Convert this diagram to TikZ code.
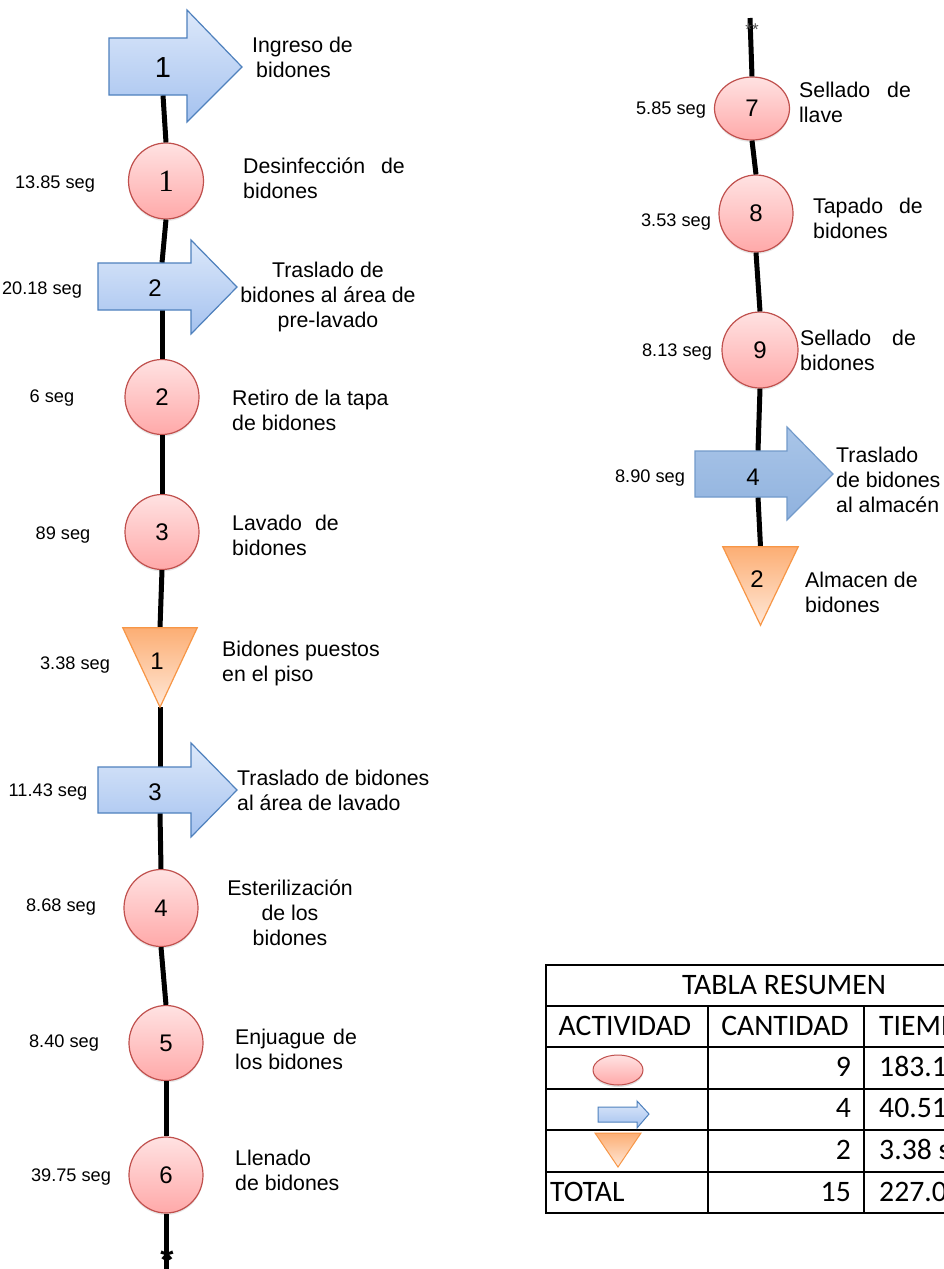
\documentclass[tikz,border=0pt]{standalone}
\usepackage{fontspec}
\setmainfont{Liberation Sans}
\newfontfamily\calfont{Carlito}
\newfontfamily\serfont{Liberation Serif}
\usetikzlibrary{shapes.geometric,shadows}
\definecolor{circborder}{HTML}{C0504D}
\definecolor{circtop}{HTML}{FFE2E2}
\definecolor{circbot}{HTML}{FFA9A9}
\definecolor{arrborder}{HTML}{4F81BD}
\definecolor{arrtop}{HTML}{DCE8FA}
\definecolor{arrbot}{HTML}{A5C2EF}
\definecolor{arrtopb}{HTML}{A9C5E8}
\definecolor{arrbotb}{HTML}{90B2DE}
\definecolor{triborder}{HTML}{F79646}
\definecolor{tritop}{HTML}{FCAE74}
\definecolor{tribot}{HTML}{FFE8D8}
\tikzset{
  spine/.style={line width=5pt, black},
  circ/.style={ellipse, draw=circborder, line width=1.2pt, top color=circtop, bottom color=circbot,
    inner sep=0pt, font=\fontsize{24}{24}\selectfont,
    drop shadow={opacity=0.18, shadow xshift=0pt, shadow yshift=-2pt}},
  anode/.style={inner sep=0pt, minimum width=20pt, font=\fontsize{24}{24}\selectfont},
  arrshape/.style={draw=arrborder, line width=1.2pt, top color=arrtop, bottom color=arrbot, line join=miter},
  arrshapeb/.style={draw=arrborder!80, line width=1.2pt, top color=arrtopb, bottom color=arrbotb, line join=miter},
  tnode/.style={inner sep=0pt, minimum width=74pt, minimum height=79pt},
  trishape/.style={draw=triborder, line width=1.2pt, top color=tritop, bottom color=tribot, line join=miter},
  num/.style={inner sep=0pt, font=\fontsize{24}{24}\selectfont},
  desc/.style={font=\fontsize{21.3}{25}\selectfont, align=left, anchor=west, inner sep=0pt},
  descc/.style={font=\fontsize{21.3}{25}\selectfont, align=center, anchor=center, inner sep=0pt},
  tlabel/.style={font=\fontsize{18.2}{20}\selectfont, inner sep=0pt},
  tabline/.style={line width=2pt, black},
  tabtext/.style={font=\calfont\fontsize{29.7}{30}\selectfont, inner sep=0pt}
}
\begin{document}
\begin{tikzpicture}[x=1pt,y=-1pt]
\clip (0,0) rectangle (944,1269);
\fill[white] (0,0) rectangle (944,1269);

% ---------------- left column nodes ----------------
\node[anode, minimum height=57pt] (a1) at (163,66.5) {};
\node[circ, minimum width=75pt, minimum height=76pt, font=\serfont\fontsize{31}{31}\selectfont] (c1) at (166,181) {1};
\node[anode, minimum height=47pt] (a2) at (162,286.5) {};
\node[circ, minimum width=74pt, minimum height=75pt] (c2) at (162,397) {2};
\node[circ, minimum width=74pt, minimum height=75pt] (c3) at (162,532) {3};
\node[tnode] (t1) at (160,667.5) {};
\node[anode, minimum height=46pt] (a3) at (160,790) {};
\node[circ, minimum width=74pt, minimum height=77pt] (c4) at (161,908) {4};
\node[circ, minimum width=74pt, minimum height=75pt] (c5) at (166,1043) {5};
\node[circ, minimum width=74pt, minimum height=76pt] (c6) at (166,1175) {6};
\coordinate (endL) at (166,1269);

% ---------------- right column nodes ----------------
\coordinate (startR) at (750,18);
\node[circ, minimum width=75pt, minimum height=63pt] (c7) at (752,108.5) {7};
\node[circ, minimum width=74pt, minimum height=77pt] (c8) at (756,213.5) {8};
\node[circ, minimum width=76pt, minimum height=76pt] (c9) at (760,350) {9};
\node[anode, minimum height=46pt] (a4) at (758,474) {};
\node[tnode, minimum width=75pt, minimum height=78pt] (t2) at (760.5,586) {};

% ---------------- connectors ----------------
\draw[spine] (a1.south) -- (c1.north);
\draw[spine] (c1.south) -- (a2.north);
\draw[spine] (a2.south) -- (c2.north);
\draw[spine] (c2.south) -- (c3.north);
\draw[spine] (c3.south) -- (t1.north);
\draw[spine] (t1.south) -- (a3.north);
\draw[spine] (a3.south) -- (c4.north);
\draw[spine] (c4.south) -- (c5.north);
\draw[spine] (c5.south) -- (c6.north);
\draw[spine] (c6.south) -- (endL);
\draw[spine] (startR) -- (c7.north);
\draw[spine] (c7.south) -- (c8.north);
\draw[spine] (c8.south) -- (c9.north);
\draw[spine] (c9.south) -- (a4.north);
\draw[spine] (a4.south) -- (t2.north);

% ---------------- arrow and triangle shapes ----------------
\path[arrshape] (109,38) -- (187,38) -- (187,10) -- (242,67) -- (187,122) -- (187,95) -- (109,95) -- cycle;
\node[num, font=\fontsize{29}{29}\selectfont] at (163,68) {1};
\path[arrshape] (98,263) -- (191,263) -- (191,240) -- (237,287) -- (191,334) -- (191,310) -- (98,310) -- cycle;
\node[num] at (155,288) {2};
\path[arrshape] (98,767) -- (191,767) -- (191,743) -- (237,790) -- (191,837) -- (191,813) -- (98,813) -- cycle;
\node[num] at (155,792) {3};
\path[arrshapeb] (695,451) -- (787,451) -- (787,427) -- (833,474) -- (787,520) -- (787,497) -- (695,497) -- cycle;
\node[num] at (753,477) {4};
\path[trishape] (t1.north west) -- (t1.north east) -- (t1.south) -- cycle;
\node[num] at (157,661) {1};
\path[trishape] (t2.north west) -- (t2.north east) -- (t2.south) -- cycle;
\node[num] at (757,579) {2};

% asterisks
\node[inner sep=0pt, anchor=base, font=\bfseries\fontsize{34}{34}\selectfont] (astL) at (167,1259) {\raisebox{-12pt}[10pt][0pt]{*}};
\node[inner sep=0pt, text=black!70, font=\fontsize{17}{17}\selectfont] (astR) at (752,30) {**};

% ---------------- descriptions ----------------
\node[desc] (d1) at (252,57) {Ingreso de\\\hspace{4pt}bidones};
\node[desc] (d2) at (243,178) {Desinfecci\'on\hspace{16pt}de\\bidones};
\node[descc] (d3) at (328,297) {Traslado de\\bidones al \'area de\\pre-lavado};
\node[desc] (d4) at (232,410) {Retiro de la tapa\\de bidones};
\node[desc] (d5) at (232,535) {Lavado\hspace{13pt}de\\bidones};
\node[desc] (d6) at (222,663) {Bidones puestos\\en el piso};
\node[desc] (d7) at (237,790) {Traslado de bidones\\al \'area de lavado};
\node[descc] (d8) at (290,913) {Esterilizaci\'on\\de los\\bidones};
\node[desc] (d9) at (235,1049) {Enjuague\hspace{8pt}de\\los bidones};
\node[desc] (d10) at (235,1170) {Llenado\\de bidones};
\node[desc] (d11) at (799,102) {Sellado\hspace{17pt}de\\llave};
\node[desc] (d12) at (813,218) {Tapado\hspace{16pt}de\\bidones};
\node[desc] (d13) at (800,350) {Sellado\hspace{21pt}de\\bidones};
\node[desc] (d14) at (836,480) {Traslado\\de bidones\\al almac\'en};
\node[desc] (d15) at (805,592) {Almacen de\\bidones};

% ---------------- times ----------------
\node[tlabel] (s1) at (55,184) {13.85 seg};
\node[tlabel] (s2) at (42,290) {20.18 seg};
\node[tlabel] (s3) at (52,398) {6 seg};
\node[tlabel] (s4) at (63,535) {89 seg};
\node[tlabel] (s5) at (75,665) {3.38 seg};
\node[tlabel] (s6) at (48,792) {11.43 seg};
\node[tlabel] (s7) at (61,907) {8.68 seg};
\node[tlabel] (s8) at (64,1043) {8.40 seg};
\node[tlabel] (s9) at (71,1177) {39.75 seg};
\node[tlabel] (s10) at (671,110) {5.85 seg};
\node[tlabel] (s11) at (676,222) {3.53 seg};
\node[tlabel] (s12) at (677,352) {8.13 seg};
\node[tlabel] (s13) at (650,478) {8.90 seg};

% ---------------- summary table ----------------
\draw[tabline] (546,965) rectangle (1020,1213);
\foreach \yy in {1006,1047,1089,1130,1172} \draw[tabline] (546,\yy) -- (1020,\yy);
\draw[tabline] (708,1006) -- (708,1213);
\draw[tabline] (864,1006) -- (864,1213);
\node[tabtext, anchor=base] (th) at (784,994) {TABLA RESUMEN};
\node[tabtext, anchor=base] (h1) at (625,1035) {ACTIVIDAD};
\node[tabtext, anchor=base] (h2) at (785,1035) {CANTIDAD};
\node[tabtext, anchor=base west] (h3) at (879,1035) {TIEMPO};
\node[ellipse, draw=circborder, line width=1pt, top color=circtop, bottom color=circbot, minimum width=50pt, minimum height=30pt, inner sep=0pt,
  drop shadow={opacity=0.25, shadow xshift=0pt, shadow yshift=-2pt}] (ic1) at (618,1070) {};
\path[arrshape, line width=1pt] (598,1107) -- (637,1107) -- (637,1101) -- (649,1114) -- (637,1128) -- (637,1122) -- (598,1122) -- cycle;
\path[trishape, line width=1pt] (595,1133) -- (641,1133) -- (618,1167) -- cycle;
\node[tabtext, anchor=base east] (n1) at (851,1076) {9};
\node[tabtext, anchor=base east] (n2) at (851,1117) {4};
\node[tabtext, anchor=base east] (n3) at (851,1159) {2};
\node[tabtext, anchor=base east] (n4) at (851,1201) {15};
\node[tabtext, anchor=base west] (v1) at (879,1076) {183.19 seg};
\node[tabtext, anchor=base west] (v2) at (879,1117) {40.51 seg};
\node[tabtext, anchor=base west] (v3) at (879,1159) {3.38 seg};
\node[tabtext, anchor=base west] (v4) at (879,1201) {227.08 seg};
\node[tabtext, anchor=base west] (tot) at (550,1201) {TOTAL};
\end{tikzpicture}
\end{document}
